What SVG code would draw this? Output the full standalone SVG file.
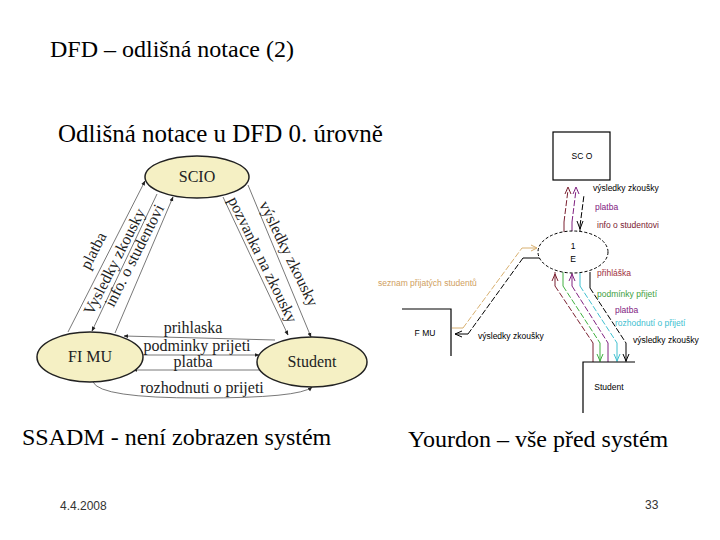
<svg xmlns="http://www.w3.org/2000/svg" width="720" height="540" viewBox="0 0 720 540">
<defs>
<marker id="ah" viewBox="0 0 10 10" refX="9" refY="5" markerWidth="6" markerHeight="6" orient="auto"><path d="M0,1 L10,5 L0,9 z" fill="#222"/></marker>
<style>
.t{font-family:"Liberation Serif","Times New Roman",serif;fill:#000}
.h{font-size:24px}
.l{font-size:16px;fill:#222}
.s{font-family:"Liberation Sans",Arial,sans-serif;font-size:8.5px}
.f{font-family:"Liberation Sans",Arial,sans-serif;font-size:12px;fill:#333}
.el{fill:#f5f0c4;stroke:#222;stroke-width:1.5}
.c{fill:none;stroke:#555;stroke-width:0.8;marker-end:url(#ah)}
.box{fill:none;stroke:#000;stroke-width:1.2}
.y{fill:none;stroke-width:1}
.d{stroke-dasharray:6,2}
</style>
</defs>
<rect width="720" height="540" fill="#fff"/>
<text class="t h" x="50" y="57">DFD – odlišná notace (2)</text>
<text class="t h" x="58" y="142" style="font-size:25px">Odlišná notace u DFD 0. úrovně</text>
<text class="t h" x="22" y="445">SSADM - není zobrazen systém</text>
<text class="t h" x="408" y="447">Yourdon – vše před systém</text>
<text class="f" x="60" y="510">4.4.2008</text>
<text class="f" x="645" y="509">33</text>

<g id="connectors">
<line class="c" x1="68" y1="332" x2="145" y2="181"/>
<line class="c" x1="157" y1="194" x2="92" y2="331"/>
<line class="c" x1="115" y1="333" x2="173" y2="197"/>
<line class="c" x1="223" y1="197" x2="288" y2="335"/>
<line class="c" x1="248" y1="185" x2="311" y2="337"/>
<line class="c" x1="275" y1="340" x2="124" y2="336"/>
<line class="c" x1="143" y1="355" x2="259" y2="355"/>
<line class="c" x1="270" y1="370" x2="133" y2="370"/>
<path class="c" d="M93,382 Q100,398 200,398 Q300,398 312,387"/>
<text class="t l" transform="translate(98,253) rotate(-63)" text-anchor="middle">platba</text>
<text class="t l" transform="translate(119,264) rotate(-63)" text-anchor="middle">Vysledky zkousky</text>
<text class="t l" transform="translate(139,258) rotate(-63)" text-anchor="middle">info. o studentovi</text>
<text class="t l" transform="translate(258,262) rotate(64)" text-anchor="middle">pozvanka na zkousky</text>
<text class="t l" transform="translate(284,256) rotate(64)" text-anchor="middle">výsledky zkousky</text>
<text class="t l" x="193" y="333" text-anchor="middle">prihlaska</text>
<text class="t l" x="197" y="351" text-anchor="middle">podminky prijeti</text>
<text class="t l" x="193" y="367" text-anchor="middle">platba</text>
<text class="t l" x="202" y="393" text-anchor="middle">rozhodnuti o prijeti</text>

<!-- Yourdon flows: process to SCIO -->
<path class="y" stroke="#7a2030" d="M564,233 V222"/>
<path class="y d" stroke="#7a2030" d="M564,222 L568,190"/>
<path class="y" stroke="#7a2030" d="M565,194 L568,187 L571,194"/>
<path class="y" stroke="#802080" d="M572,233 V222"/>
<path class="y d" stroke="#802080" d="M572,222 L576,190"/>
<path class="y" stroke="#802080" d="M573,194 L576,187 L579,194"/>
<line x1="564" y1="233" x2="580" y2="233" stroke="#000"/>
<path class="y" stroke="#000" d="M580,233 V226"/>
<path class="y d" stroke="#000" d="M580,226 L584,195"/>
<path class="y" stroke="#000" d="M577,221 L580,229 L583,221"/>
<text class="s" x="593" y="191" fill="#000">výsledky zkoušky</text>
<text class="s" x="595" y="210" fill="#802080">platba</text>
<text class="s" x="597" y="228" fill="#7a2030">info o studentovi</text>

<!-- process to Student -->
<path class="y" stroke="#7a2030" d="M555,272 V286 M593,343 V362"/>
<path class="y d" stroke="#7a2030" d="M555,286 L593,343"/>
<path class="y" stroke="#7a2030" d="M552,281 L555,274 L558,281"/>
<path class="y" stroke="#40b040" d="M563,272 V286 M600,343 V362"/>
<path class="y d" stroke="#40b040" d="M563,286 L600,343"/>
<path class="y" stroke="#40b040" d="M597,354 L600,361 L603,354"/>
<path class="y" stroke="#802080" d="M572,272 V286 M608,343 V362"/>
<path class="y d" stroke="#802080" d="M572,286 L608,343"/>
<path class="y" stroke="#802080" d="M569,281 L572,274 L575,281"/>
<path class="y" stroke="#40c0d0" d="M580,272 V286 M617,343 V362"/>
<path class="y d" stroke="#40c0d0" d="M580,286 L617,343"/>
<path class="y" stroke="#40c0d0" d="M614,354 L617,361 L620,354"/>
<path class="y" stroke="#000" d="M590,272 V288 M626,343 V362"/>
<path class="y d" stroke="#000" d="M590,288 L626,343"/>
<path class="y" stroke="#000" d="M623,354 L626,361 L629,354"/>
<text class="s" x="597" y="276" fill="#a03040">přihláška</text>
<text class="s" x="597" y="297" fill="#40a040">podmínky přijetí</text>
<text class="s" x="615" y="313" fill="#802080">platba</text>
<text class="s" x="615" y="326" fill="#40c0d0">rozhodnutí o přijetí</text>
<text class="s" x="633" y="343" fill="#000">výsledky zkoušky</text>

<!-- process / FI MU -->
<path class="y" stroke="#d8b070" d="M452,328 H463 M522,248 H537"/>
<path class="y d" stroke="#d8b070" d="M463,328 L522,248"/>
<path class="y" stroke="#d8b070" d="M531,245 L537,248 L531,251"/>
<path class="y" stroke="#000" d="M540,258 H523 M468,334 H455"/>
<path class="y d" stroke="#000" d="M523,258 L468,334"/>
<path class="y" stroke="#000" d="M462,331 L455,334 L462,337"/>
<text class="s" x="378" y="286" fill="#d0a060">seznam přijatých studentů</text>
<text class="s" x="478" y="339" fill="#000">výsledky zkoušky</text>
</g>

<g id="scio-l"><ellipse class="el" cx="197" cy="177" rx="52" ry="21"/><text class="t l" x="197" y="182" text-anchor="middle" fill="#333">SCIO</text></g>
<g id="fimu-l"><ellipse class="el" cx="90" cy="357" rx="53" ry="25"/><text class="t l" x="90" y="362" text-anchor="middle" fill="#333">FI MU</text></g>
<g id="student-l"><ellipse class="el" cx="312" cy="362" rx="55" ry="25"/><text class="t l" x="312" y="367" text-anchor="middle" fill="#333">Student</text></g>

<g id="scio-r"><rect class="box" x="553" y="132" width="57" height="48"/><text class="s" x="582" y="159" text-anchor="middle">SC O</text></g>
<g id="proc-r"><ellipse cx="573" cy="252" rx="35" ry="21" fill="#fff" stroke="#000" stroke-dasharray="3,2"/><text class="s" x="573" y="249" text-anchor="middle">1</text><text class="s" x="573" y="262" text-anchor="middle">E</text></g>
<g id="fimu-r"><path class="box" d="M402,309 H451 V356"/><text class="s" x="425" y="336" text-anchor="middle">F MU</text></g>
<g id="student-r"><path class="box" d="M583,413 V362 H635"/><text class="s" x="609" y="390" text-anchor="middle">Student</text></g>
</svg>
